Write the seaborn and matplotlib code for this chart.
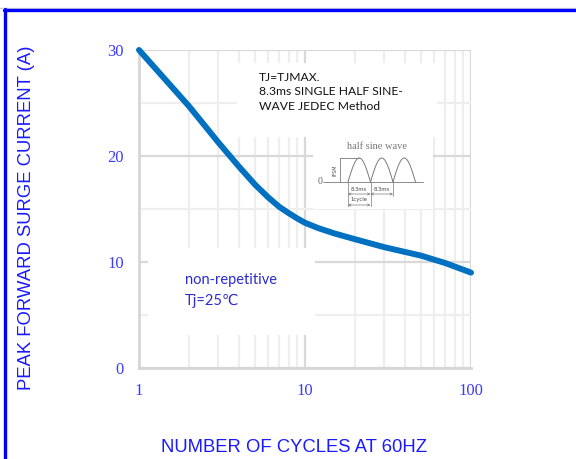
import numpy as np
import pandas as pd
import matplotlib
matplotlib.use("Agg")
import matplotlib.pyplot as plt
import seaborn as sns
from matplotlib.ticker import LogLocator, FixedLocator, NullFormatter
from matplotlib.patches import Rectangle
from matplotlib.lines import Line2D

# Data
cycles = [1, 1.5, 2, 3, 4, 5, 6, 7, 8, 9, 10, 12, 15, 20, 30, 50, 70, 100]
surge_current = [30, 26.9, 24.7, 21.3, 19.0, 17.3, 16.1, 15.2, 14.6, 14.1, 13.7,
                 13.2, 12.7, 12.15, 11.4, 10.6, 9.9, 9.0]

x_ticks = [1, 10, 100]
y_ticks = [0, 10, 20, 30]

df = pd.DataFrame({"cycles": cycles, "current": surge_current})

sns.set_theme(style="white")
plt.rcParams['font.family'] = ['DejaVu Sans']

tick_blue = '#3c3cff'
label_blue = '#1a1aff'
note_blue = '#2b2bd0'

fig = plt.figure(figsize=(5.76, 4.59), dpi=100)
W, H = 576, 459
# axes box in pixels: x 139..471, y 50..368
ax = fig.add_axes([139 / W, 1 - 368 / H, 332 / W, 318 / H])

ax.set_xscale('log')
ax.set_xlim(1, 100)
ax.set_ylim(0, 30)

# grid
ax.set_axisbelow(True)
ax.xaxis.set_major_locator(FixedLocator(x_ticks))
ax.xaxis.set_minor_locator(LogLocator(base=10, subs=np.arange(2, 10)))
ax.xaxis.set_minor_formatter(NullFormatter())
ax.yaxis.set_major_locator(FixedLocator(y_ticks))
ax.yaxis.set_minor_locator(FixedLocator([5, 15, 25]))
ax.grid(which='major', color='#d9d9d9', linewidth=1.6)
ax.grid(which='minor', color='#eeeeee', linewidth=1.6)

for s in ['top', 'right']:
    ax.spines[s].set_visible(False)
for s in ['left', 'bottom']:
    ax.spines[s].set_color('#d6d6d6')
    ax.spines[s].set_linewidth(2)

ax.set_xticklabels([str(v) for v in x_ticks])
ax.set_yticklabels([str(v) for v in y_ticks])
ax.tick_params(axis='both', which='both', length=0, pad=11, labelcolor=tick_blue,
               labelsize=12)
for lab in ax.get_xticklabels() + ax.get_yticklabels():
    lab.set_fontfamily('Liberation Serif')

# white boxes behind the notes (cover the grid)
for (x0, x1, y0, y1) in [(0.295, 0.898, 0.726, 0.959),
                         (0.524, 0.886, 0.500, 0.730),
                         (0.027, 0.530, 0.104, 0.377)]:
    ax.add_patch(Rectangle((x0, y0), x1 - x0, y1 - y0, transform=ax.transAxes,
                           facecolor='white', edgecolor='none', zorder=1))

sns.lineplot(data=df, x='cycles', y='current', ax=ax, color='#0070c0',
             linewidth=4.3, zorder=3, clip_on=False)
ax.lines[-1].set_solid_joinstyle('round')
ax.set_xlabel('')
ax.set_ylabel('')

ax.text(0.361, 0.93, 'TJ=TJMAX.\n8.3ms SINGLE HALF SINE-\nWAVE JEDEC Method',
        transform=ax.transAxes, ha='left', va='top', fontsize=8.7,
        family=['Lato', 'DejaVu Sans'], color='#111111', linespacing=1.35, zorder=4)
ax.text(0.139, 0.277, 'non-repetitive', transform=ax.transAxes, ha='left',
        va='center', fontsize=10.5, family=['Lato', 'DejaVu Sans'], color=note_blue, zorder=4)
ax.text(0.139, 0.211, 'Tj=25℃', transform=ax.transAxes, ha='left',
        va='center', fontsize=10.5, family=['Lato', 'DejaVu Sans'], color=note_blue, zorder=4)

# small half sine wave sketch (pixel box x 313..433, y 137..207)
ins = fig.add_axes([313 / W, 1 - 207 / H, 120 / W, 70 / H])
ins.set_xlim(0, 120)
ins.set_ylim(0, 70)
ins.axis('off')
gc = '#7a7a7a'
ins.text(64, 60, 'half sine wave', ha='center', va='center', fontsize=7.5,
         family='Liberation Serif', color='#777777')
ins.plot([10, 110], [25, 25], color=gc, lw=0.6)
for a in [35, 57.5, 80]:
    t = np.linspace(0, np.pi, 40)
    ins.plot(a + t / np.pi * 22.5, 25 + 24 * np.sin(t), color=gc, lw=0.7)
ins.plot([27, 27], [25, 49], color=gc, lw=0.6)
ins.plot([27, 46], [49, 49], color=gc, lw=0.6)
ins.text(22, 37, 'IFSM', rotation=90, ha='center', va='center', fontsize=3.5, color='#555555')
ins.text(7, 25, '0', ha='center', va='center', fontsize=7, family='Liberation Serif', color='#666666')
for xv, yb in [(35, 0), (57.5, 0), (80, 11)]:
    ins.plot([xv, xv], [yb, 25], color=gc, lw=0.5)
for xa, xb, yv in [(35, 57.5, 13), (57.5, 80, 13), (35, 57.5, 2)]:
    ins.annotate('', xy=(xa, yv), xytext=(xb, yv),
                 arrowprops=dict(arrowstyle='<->', color=gc, lw=0.5, shrinkA=0, shrinkB=0,
                                 mutation_scale=4))
ins.text(46, 17, '8.3ms', ha='center', va='center', fontsize=3.8, color='#444444')
ins.text(68.5, 17, '8.3ms', ha='center', va='center', fontsize=3.8, color='#444444')
ins.text(46, 7, '1cycle', ha='center', va='center', fontsize=3.8, color='#444444')

# axis titles
fig.text(294 / W, 1 - 447 / H, 'NUMBER OF CYCLES AT 60HZ', ha='center', va='center',
         fontsize=13.3, family='Liberation Sans', color=label_blue)
fig.text(27 / W, 1 - 218 / H, 'PEAK FORWARD SURGE CURRENT (A)', ha='center', va='center',
         rotation=90, fontsize=13.3, family='Liberation Sans', color=label_blue)

# outer frame
fig.add_artist(Line2D([0, 1], [1 - 7.5 / H, 1 - 7.5 / H], transform=fig.transFigure,
                      color='#d0d0d0', lw=1))
fig.add_artist(Line2D([3.5 / W, 1], [1 - 10 / H, 1 - 10 / H], transform=fig.transFigure,
                      color='#0000ff', lw=2.4))
fig.add_artist(Line2D([4.5 / W, 4.5 / W], [0, 1 - 9 / H], transform=fig.transFigure,
                      color='#0000ff', lw=2.4))

fig.savefig('out.png', dpi=100)
